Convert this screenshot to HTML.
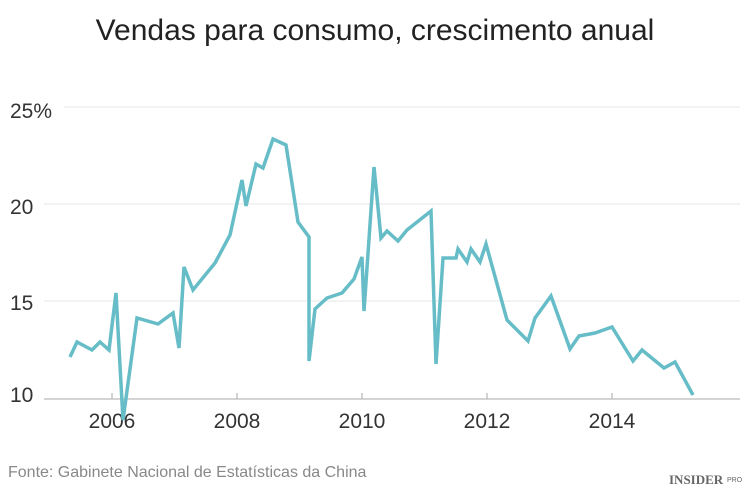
<!DOCTYPE html>
<html><head><meta charset="utf-8"><style>
body{margin:0;width:750px;height:495px;background:#fff;overflow:hidden;font-family:"Liberation Sans","DejaVu Sans",sans-serif}
</style></head><body>
<svg width="750" height="495" xmlns="http://www.w3.org/2000/svg">
<text x="375" y="40" text-anchor="middle" font-size="30" fill="#222" font-family="Liberation Sans, sans-serif">Vendas para consumo, crescimento anual</text>
<g stroke="#ececec" stroke-width="1.3">
<line x1="64" y1="107" x2="740" y2="107"/>
<line x1="44" y1="204" x2="740" y2="204"/>
<line x1="44" y1="301" x2="740" y2="301"/>
</g>
<line x1="44" y1="399" x2="740" y2="399" stroke="#bbb" stroke-width="1.3"/>
<g stroke="#bbb" stroke-width="1.3">
<line x1="112" y1="399" x2="112" y2="393"/><line x1="237" y1="399" x2="237" y2="393"/><line x1="362" y1="399" x2="362" y2="393"/><line x1="487" y1="399" x2="487" y2="393"/><line x1="612" y1="399" x2="612" y2="393"/>
</g>
<g font-size="21" fill="#333">
<text x="10" y="118">25%</text><text x="10" y="214">20</text><text x="10" y="310">15</text><text x="10" y="402">10</text>
<g text-anchor="middle"><text x="112" y="428">2006</text><text x="237" y="428">2008</text><text x="362" y="428">2010</text><text x="487" y="428">2012</text><text x="612" y="428">2014</text></g>
</g>
<polyline fill="none" stroke="#66bdc7" stroke-width="3.5" stroke-linejoin="miter" points="70,357 77,342 92,350 100,342 109,350 116,293 123,420 137,318 158,324 173,313 179,348 184,267 193,290 215,263 230,235 242,180 246,206 256,164 263,168 273,139 286,145 298,222 309,237 309,361 315,309 327,298 342,293 354,279 362,257 364,311 374,167 381,238 387,231 398,241 407,230 431,211 436,364 443,258 456,258 458,249 467,262 471,249 480,262 486,244 507,320 528,341 535,318 551,296 570,349 579,336 595,333 612,327 633,361 642,350 664,368 675,362 693,395"/>
<text x="8" y="477" font-size="16" fill="#888">Fonte: Gabinete Nacional de Estatísticas da China</text>
<text x="669" y="484" font-size="13" font-weight="bold" fill="#666" font-family="Liberation Serif, serif">INSIDER</text><text x="727" y="482" font-size="7" fill="#666">PRO</text>
</svg>
</body></html>
